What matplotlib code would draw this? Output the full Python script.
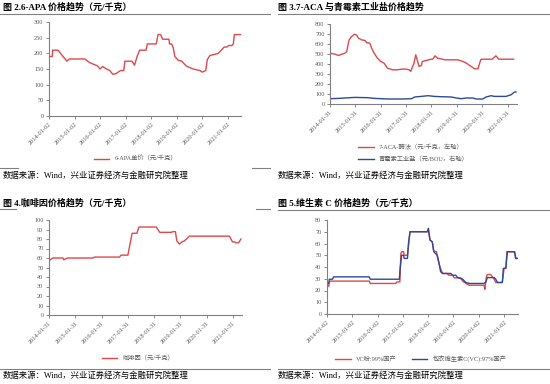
import matplotlib
matplotlib.use("Agg")
import matplotlib.pyplot as plt
from matplotlib.lines import Line2D

plt.rcParams['font.family'] = ['Liberation Serif', 'Noto Sans CJK SC', 'DejaVu Sans']

RED = '#E0474C'
BLUE = '#2B4A9B'
GRAY = '#595959'

# ---- panel 1: 6-APA (x in fractional years) ----
apa_x = [2014.00, 2014.13, 2014.14, 2014.35, 2014.70, 2014.80, 2015.00, 2015.40, 2015.60,
         2015.90, 2016.00, 2016.10, 2016.25, 2016.38, 2016.50, 2016.62, 2016.80, 2016.93,
         2016.97, 2017.25, 2017.35, 2017.45, 2017.55, 2017.80, 2017.85, 2018.20, 2018.27,
         2018.37, 2018.45, 2018.70, 2018.72, 2018.80, 2018.86, 2018.93, 2019.06, 2019.20,
         2019.37, 2019.50, 2019.65, 2019.80, 2019.92, 2020.00, 2020.14, 2020.20, 2020.30,
         2020.50, 2020.63, 2020.77, 2020.86, 2020.97, 2021.03, 2021.17, 2021.22, 2021.26,
         2021.50]
apa_y = [190, 190, 210, 210, 175, 182, 182, 182, 170,
         160, 150, 158, 150, 145, 133, 135, 145, 145,
         175, 175, 162, 190, 210, 210, 230, 230, 260,
         260, 245, 245, 230, 230, 220, 190, 178, 175,
         160, 155, 150, 147, 145, 140, 145, 180, 193,
         197, 200, 212, 220, 220, 225, 225, 230, 260,
         260]
apa_ticks = ['2014-01-02', '2015-01-02', '2016-01-02', '2017-01-02',
             '2018-01-02', '2019-01-02', '2020-01-02', '2021-01-02']

# ---- panel 2: 7-ACA and penicillin salt ----
aca_x = [2014.08, 2014.28, 2014.41, 2014.54, 2014.67, 2014.74, 2014.83, 2014.93, 2015.04,
         2015.13, 2015.20, 2015.33, 2015.46, 2015.52, 2015.65, 2015.72, 2015.82, 2015.95,
         2016.08, 2016.21, 2016.34, 2016.54, 2016.73, 2016.93, 2017.06, 2017.20, 2017.26,
         2017.39, 2017.46, 2017.59, 2017.68, 2017.72, 2018.06, 2018.13, 2018.22, 2018.32,
         2018.52, 2018.59, 2019.12, 2019.32, 2019.45, 2019.65, 2019.78, 2019.91, 2020.02,
         2020.06, 2020.08, 2020.47, 2020.62, 2020.73, 2020.86, 2021.32]
aca_y = [508, 498, 485, 498, 508, 525, 640, 674, 698,
         690, 658, 641, 635, 615, 608, 558, 508, 458,
         425, 409, 359, 342, 342, 349, 349, 342, 326,
         409, 492, 375, 385, 425, 448, 448, 482, 458,
         448, 442, 442, 425, 409, 375, 352, 352, 442,
         448, 448, 448, 482, 448, 448, 448]
pen_x = [2014.08, 2014.41, 2015.06, 2015.58, 2015.84, 2016.37, 2016.89, 2017.29, 2017.42,
         2017.68, 2017.94, 2018.20, 2018.46, 2018.86, 2019.06, 2019.25, 2019.45, 2019.71,
         2019.84, 2020.10, 2020.23, 2020.43, 2020.56, 2021.02, 2021.22, 2021.35, 2021.41]
pen_y = [53, 56, 66, 63, 56, 50, 50, 53, 70,
         76, 83, 76, 73, 70, 60, 53, 60, 60,
         50, 50, 70, 83, 76, 76, 93, 120, 120]
aca_ticks = ['2014-01-31', '2015-01-31', '2016-01-31', '2017-01-31',
             '2018-01-31', '2019-01-31', '2020-01-31', '2021-01-31']

# ---- panel 3: caffeine ----
cof_x = [2014.08, 2014.17, 2014.23, 2014.61, 2014.65, 2014.74, 2014.80, 2015.75, 2015.81,
         2016.76, 2016.82, 2017.08, 2017.24, 2017.42, 2017.50, 2018.16, 2018.29, 2018.73,
         2018.79, 2018.89, 2018.94, 2019.04, 2019.14, 2019.23, 2019.42, 2020.94, 2021.06,
         2021.13, 2021.19, 2021.29, 2021.38]
cof_y = [57, 59, 60, 60, 58, 59.6, 60, 60, 61,
         61, 63, 63, 86, 86, 92.6, 92.6, 87, 87,
         87.7, 87.7, 78, 74.7, 77, 78, 83, 83, 77,
         77, 76, 76, 80]
cof_ticks = aca_ticks

# ---- panel 4: vitamin C ----
vc_x = [2014.00, 2014.07, 2014.09, 2014.13, 2015.67, 2015.71, 2016.72, 2016.76, 2016.88,
        2016.92, 2016.96, 2017.03, 2017.05, 2017.18, 2017.24, 2017.28, 2017.96, 2018.00,
        2018.07, 2018.16, 2018.22, 2018.33, 2018.36, 2018.43, 2018.49, 2018.57, 2018.76,
        2018.80, 2018.96, 2019.03, 2019.29, 2019.36, 2019.49, 2019.62, 2020.21, 2020.24,
        2020.30, 2020.34, 2020.47, 2020.54, 2020.61, 2020.67, 2020.93, 2021.00, 2021.07,
        2021.11, 2021.40, 2021.46, 2021.53]
vc_y = [24.5, 23.6, 27.3, 28, 28, 26, 26, 27.3, 27.3,
        51.6, 53, 53, 50, 50, 61.5, 70, 70, 72,
        63, 61.5, 53.6, 53, 48.7, 43, 38.7, 34.5, 34.5,
        33, 33, 30.8, 30.8, 28, 26, 24.5, 24.5, 21,
        31.6, 33.6, 33.6, 31.6, 29.6, 26.8, 26.8, 38.7, 38.7,
        53, 53, 47.3, 47.3]
vcc_x = [2014.00, 2014.07, 2014.09, 2014.22, 2014.26, 2015.67, 2015.71, 2016.86, 2016.89,
         2016.95, 2017.03, 2017.05, 2017.18, 2017.22, 2017.28, 2017.97, 2018.01, 2018.07,
         2018.16, 2018.22, 2018.36, 2018.43, 2018.49, 2018.57, 2018.90, 2018.96, 2019.09,
         2019.16, 2019.36, 2019.49, 2019.62, 2020.21, 2020.28, 2020.34, 2020.61, 2020.67,
         2020.74, 2020.93, 2020.97, 2021.07, 2021.13, 2021.42, 2021.46, 2021.53]
vcc_y = [26, 26, 29.6, 29.6, 31.6, 31.6, 29.6, 29.6, 38.7,
         50, 50, 47.3, 47.3, 60, 70, 70, 73, 63,
         61.5, 53, 50, 43, 36, 34.5, 34.5, 33, 33,
         31, 29.6, 26.8, 26, 26, 27.3, 31, 31, 29.6,
         26.8, 26.8, 38.7, 39.3, 53, 53, 47.3, 47.3]
vc_ticks = apa_ticks


def fmt_axes(ax, x0, ticks, ylim, ystep, xmax):
    ax.set_xlim(x0, xmax)
    ax.set_ylim(*ylim)
    ax.set_xticks([x0 + i for i in range(len(ticks))])
    ax.set_xticklabels(ticks, rotation=45, ha='right', rotation_mode='anchor',
                       fontsize=4.5, color=GRAY)
    ax.set_yticks(range(ylim[0], ylim[1] + 1, ystep))
    ax.tick_params(axis='y', labelsize=4.5, labelcolor=GRAY, length=2, width=0.5, colors=GRAY, pad=2)
    ax.tick_params(axis='x', length=2, width=0.5, colors=GRAY, pad=2)
    for s in ['top', 'right']:
        ax.spines[s].set_visible(False)
    for s in ['left', 'bottom']:
        ax.spines[s].set_color('#808080')
        ax.spines[s].set_linewidth(0.8)


fig = plt.figure(figsize=(5.5, 3.84), dpi=100)
W, H = 550, 384


def box(l, t, r, b):
    return [l / W, 1 - b / H, (r - l) / W, (b - t) / H]


def hline(x0, x1, y, lw=0.8):
    fig.add_artist(Line2D([x0 / W, x1 / W], [1 - y / H, 1 - y / H],
                          color='#808080', lw=lw, transform=fig.transFigure))


def title(x, y, s):
    fig.text(x / W, 1 - y / H, s, fontsize=6.5, fontweight='bold', va='center', ha='left')


def source(x, y):
    fig.text(x / W, 1 - y / H, '数据来源：Wind，兴业证券经济与金融研究院整理',
             fontsize=6, va='center', ha='left')


# panel 1
ax1 = fig.add_axes(box(49, 22, 241, 116))
ax1.plot(apa_x, apa_y, color=RED, lw=1.0, label='6-APA单价（元/千克）')
fmt_axes(ax1, 2014.0, apa_ticks, (0, 300), 50, 2021.52)
ax1.legend(loc='upper center', bbox_to_anchor=(0.45, -0.36), frameon=False,
           fontsize=4.5, handlelength=2.5, labelcolor=GRAY)
title(3, 7, '图 2.6-APA 价格趋势（元/千克）')
hline(0, 270, 14)
hline(0, 18, 168)
hline(252, 270, 168)
source(3, 176)

# panel 2
ax2 = fig.add_axes(box(330, 24, 517, 104))
ax2.plot(aca_x, aca_y, color=RED, lw=1.0, label='7-ACA-酶法（元/千克，左轴）')
ax2.plot(pen_x, pen_y, color=BLUE, lw=1.0, label='青霉素工业盐（元/BOU，右轴）')
fmt_axes(ax2, 2014.08, aca_ticks, (0, 800), 100, 2021.45)
ax2.legend(loc='upper left', bbox_to_anchor=(0.12, -0.43), frameon=False,
           fontsize=4.5, handlelength=2.5, labelcolor=GRAY, labelspacing=0.9)
title(278, 7, '图 3.7-ACA 与青霉素工业盐价格趋势')
hline(278, 550, 14)
source(278, 176)

# panel 3
ax3 = fig.add_axes(box(49, 220, 242, 315))
ax3.plot(cof_x, cof_y, color=RED, lw=1.0, label='咖啡因（元/千克）')
fmt_axes(ax3, 2014.08, cof_ticks, (0, 100), 10, 2021.42)
ax3.legend(loc='upper center', bbox_to_anchor=(0.46, -0.36), frameon=False,
           fontsize=4.5, handlelength=2.5, labelcolor=GRAY)
title(3, 203, '图 4.咖啡因价格趋势（元/千克）')
hline(0, 16, 209)
hline(256, 270, 209)
hline(0, 270, 369)
source(3, 376)

# panel 4
ax4 = fig.add_axes(box(327, 220, 518, 314))
ax4.plot(vc_x, vc_y, color=RED, lw=1.0, label='VC粉:99%国产')
ax4.plot(vcc_x, vcc_y, color=BLUE, lw=1.0, label='包衣维生素C(VC):97%国产')
fmt_axes(ax4, 2014.0, vc_ticks, (0, 80), 10, 2021.55)
ax4.legend(loc='upper center', bbox_to_anchor=(0.49, -0.38), frameon=False, ncol=2,
           fontsize=4.5, handlelength=2.5, labelcolor=GRAY, columnspacing=2.5)
title(278, 203, '图 5.维生素 C 价格趋势（元/千克）')
hline(278, 550, 210)
hline(278, 550, 369)
source(278, 376)

fig.savefig('out.png', dpi=100)
